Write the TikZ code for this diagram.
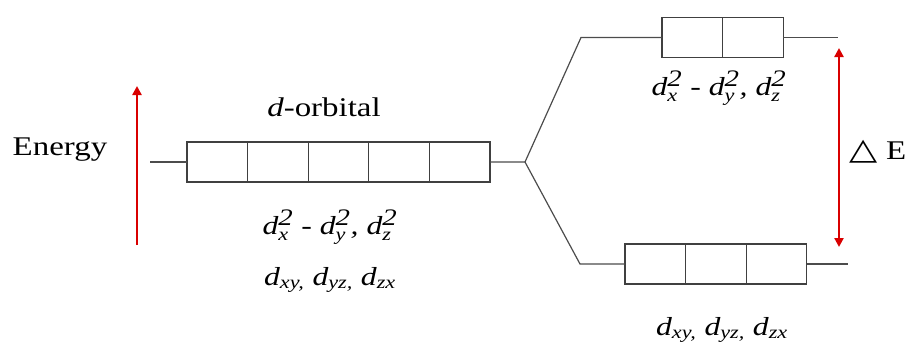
\documentclass[tikz,border=0pt]{standalone}
\usepackage{fontspec,amsmath}
\setmainfont{Liberation Serif}
\newfontfamily\symfont{DejaVu Sans}
\usetikzlibrary{arrows.meta,positioning}
\newcommand{\dsq}[2]{d$_{\text{\itshape #1}}^{\text{\itshape\scalebox{1.3}{#2}}}$}
\newcommand{\dsb}[1]{d$_{\text{\itshape #1}}$}

\begin{document}
\begin{tikzpicture}[x=1pt,y=-1pt,
  cell/.style={draw=black!75,line width=1.2pt,minimum width=60.6pt,minimum height=40pt,inner sep=0pt,outer sep=0pt},
  conn/.style={draw=black!70,line width=1.2pt},
  redarr/.style={draw=red!85!black,line width=2.4pt},
  lbl/.style={font=\fontsize{27}{30}\selectfont,xscale=1.22,inner sep=0pt},
  orb/.style={font=\fontsize{26}{28}\selectfont\itshape,xscale=1.22,inner sep=0pt}]
\useasboundingbox (0,0) rectangle (912,343);
% five degenerate d orbitals
\node[cell] (m0) at (217.3,162) {};
\foreach \i [remember=\i as \j (initially 0)] in {1,...,4}
  \node[cell,right=0pt of m\j] (m\i) {};
% split levels
\node[cell] (t0) at (692.3,37.5) {};
\node[cell,right=0pt of t0] (t1) {};
\node[cell] (b0) at (655.3,264) {};
\node[cell,right=0pt of b0] (b1) {};
\node[cell,right=0pt of b1] (b2) {};

\coordinate (lend) at (150,162);
\coordinate (split) at (525,162);
\coordinate (tknee) at (581,37.5);
\coordinate (tend) at (838,37.5);
\coordinate (bknee) at (580,264);
\coordinate (bend) at (848,264);
\draw[conn] (lend) -- (m0.west);
\draw[conn] (m4.east) -- (split) -- (tknee) -- (t0.west);
\draw[conn] (split) -- (bknee) -- (b0.west);
\draw[conn] (t1.east) -- (tend);
\draw[conn] (b2.east) -- (bend);

% energy axis and gap
\coordinate (elo) at (137,245);
\coordinate (ehi) at (137,86);
\coordinate (gtop) at (839,48);
\coordinate (gbot) at (839,247);
\draw[redarr,-{Triangle[length=9pt,width=9pt]}] (elo) -- (ehi);
\draw[redarr,{Triangle[length=9pt,width=9pt]}-{Triangle[length=9pt,width=9pt]}] (gtop) -- (gbot);

\node[lbl] (energy) at (60,150) {Energy};
\node[lbl] (dname) at (324,107) {\textit{d}-orbital};
\node[orb] (meg) at (330,227) {\dsq{x}{2} - \dsq{y}{2}, \dsq{z}{2}};
\node[orb] (mtg) at (330,280) {\dsb{xy,} \dsb{yz,} \dsb{zx}};
\node[orb] (teg) at (719,88) {\dsq{x}{2} - \dsq{y}{2}, \dsq{z}{2}};
\node[orb] (btg) at (722,330) {\dsb{xy,} \dsb{yz,} \dsb{zx}};
\node[lbl] (gap) at (878,152) {{\symfont\fontsize{30}{30}\selectfont △} E};
\end{tikzpicture}
\end{document}
